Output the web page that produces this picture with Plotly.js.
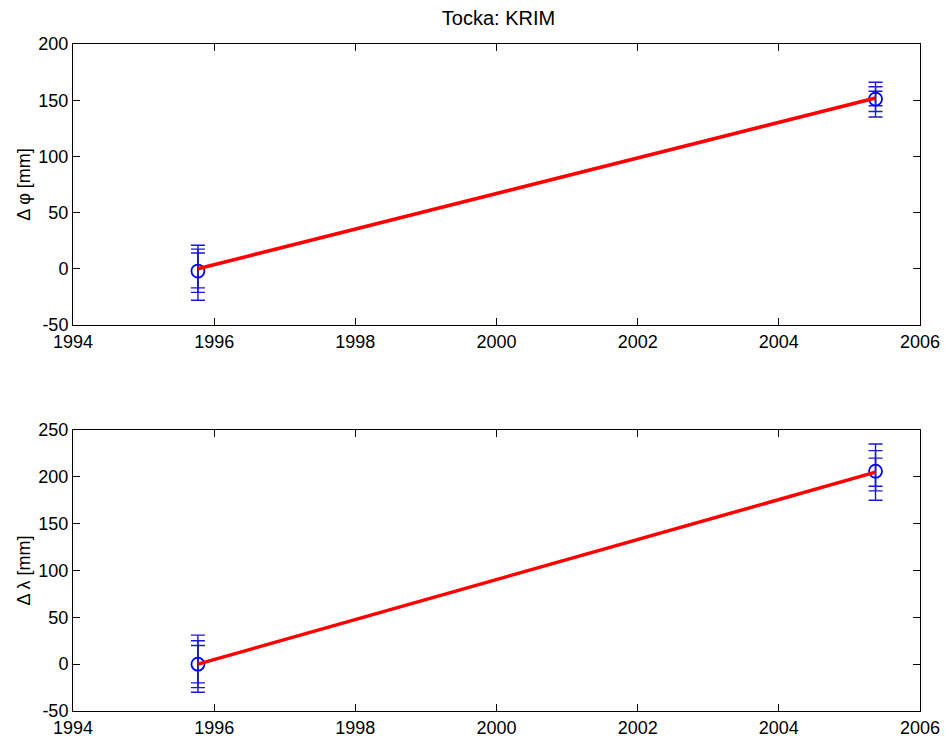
<!DOCTYPE html>
<html>
<head>
<meta charset="utf-8">
<script src="https://cdn.plot.ly/plotly-3.0.1.min.js"></script>
<style>html,body{margin:0;padding:0;background:#fff;}#chart{width:945px;height:738px;}</style>
</head>
<body>
<div id="chart"></div>
<script>
// ---- data ----
const chartTitle = 'Tocka: KRIM';
const epochs = [1995.77, 2005.37];

const phiObs = [-2, 151];
const phiFit = [0, 152];
const phiUp1 = [21, 166];
const phiUp2 = [17.5, 162];
const phiUp3 = [14, 158];
const phiLo1 = [-17, 145];
const phiLo2 = [-21, 140];
const phiLo3 = [-28, 135];

const lamObs = [0, 206];
const lamFit = [0, 205];
const lamUp1 = [31, 235];
const lamUp2 = [25, 228];
const lamUp3 = [20, 220];
const lamLo1 = [-20, 190];
const lamLo2 = [-25, 185];
const lamLo3 = [-30, 175];

const xTicks = [1994, 1996, 1998, 2000, 2002, 2004, 2006];
const yTicksPhi = [-50, 0, 50, 100, 150, 200];
const yTicksLam = [-50, 0, 50, 100, 150, 200, 250];
const yTitlePhi = 'Δ φ [mm]';
const yTitleLam = 'Δ λ [mm]';

// ---- helpers ----
const ERR_COLOR = 'rgb(25,25,205)';
function errTrace(obs, up, lo, xa, ya) {
  return {
    x: epochs, y: obs, xaxis: xa, yaxis: ya, type: 'scatter', mode: 'markers',
    marker: {size: 1, color: 'rgba(0,0,0,0)'},
    error_y: {type: 'data', symmetric: false,
      array: up.map((v, i) => v - obs[i]),
      arrayminus: lo.map((v, i) => obs[i] - v),
      color: ERR_COLOR, thickness: 1.4, width: 7},
    showlegend: false, hoverinfo: 'skip'
  };
}
function markerTrace(obs, xa, ya) {
  return {x: epochs, y: obs, xaxis: xa, yaxis: ya, type: 'scatter', mode: 'markers',
    marker: {symbol: 'circle-open', size: 13, color: '#0000ff', line: {width: 1.8, color: '#0000ff'}},
    showlegend: false};
}
function fitTrace(fit, xa, ya) {
  return {x: epochs, y: fit, xaxis: xa, yaxis: ya, type: 'scatter', mode: 'lines',
    line: {color: '#ff0000', width: 3.5}, showlegend: false};
}

const data = [
  errTrace(phiObs, phiUp1, phiLo3, 'x', 'y'),
  errTrace(phiObs, phiUp2, phiLo2, 'x', 'y'),
  errTrace(phiObs, phiUp3, phiLo1, 'x', 'y'),
  markerTrace(phiObs, 'x', 'y'),
  fitTrace(phiFit, 'x', 'y'),
  errTrace(lamObs, lamUp1, lamLo3, 'x2', 'y2'),
  errTrace(lamObs, lamUp2, lamLo2, 'x2', 'y2'),
  errTrace(lamObs, lamUp3, lamLo1, 'x2', 'y2'),
  markerTrace(lamObs, 'x2', 'y2'),
  fitTrace(lamFit, 'x2', 'y2')
];

const FONT = {family: 'Liberation Sans, Arial, sans-serif', size: 18, color: '#000'};
function xAxis(anchor) {
  return {anchor: anchor, range: [1994, 2006], tickvals: xTicks, ticktext: xTicks.map(String),
    ticks: 'inside', ticklen: 7, tickcolor: '#000', showline: true, linecolor: '#000', linewidth: 1,
    mirror: 'ticks', showgrid: false, zeroline: false, tickfont: FONT};
}
function yAxis(anchor, domain, range, ticks, title) {
  return {anchor: anchor, domain: domain, range: range, tickvals: ticks, ticktext: ticks.map(String),
    ticks: 'inside', ticklen: 7, tickcolor: '#000', showline: true, linecolor: '#000', linewidth: 1,
    mirror: 'ticks', showgrid: false, zeroline: false, tickfont: FONT,
    title: {text: title, font: {family: FONT.family, size: 18, color: '#000'}, standoff: 3}};
}

const layout = {
  width: 945, height: 738,
  margin: {l: 73, r: 25, t: 44, b: 27},
  paper_bgcolor: '#fff', plot_bgcolor: '#fff',
  title: {text: chartTitle, font: {family: FONT.family, size: 20, color: '#000'}, x: 0.5275, xanchor: 'center', y: 0.975, yanchor: 'middle'},
  xaxis: xAxis('y'),
  yaxis: yAxis('x', [0.5787, 1], [-50, 200], yTicksPhi, yTitlePhi),
  xaxis2: xAxis('y2'),
  yaxis2: yAxis('x2', [0, 0.4213], [-50, 250], yTicksLam, yTitleLam),
  showlegend: false
};

Plotly.newPlot('chart', data, layout, {displayModeBar: false, staticPlot: true});
</script>
</body>
</html>
